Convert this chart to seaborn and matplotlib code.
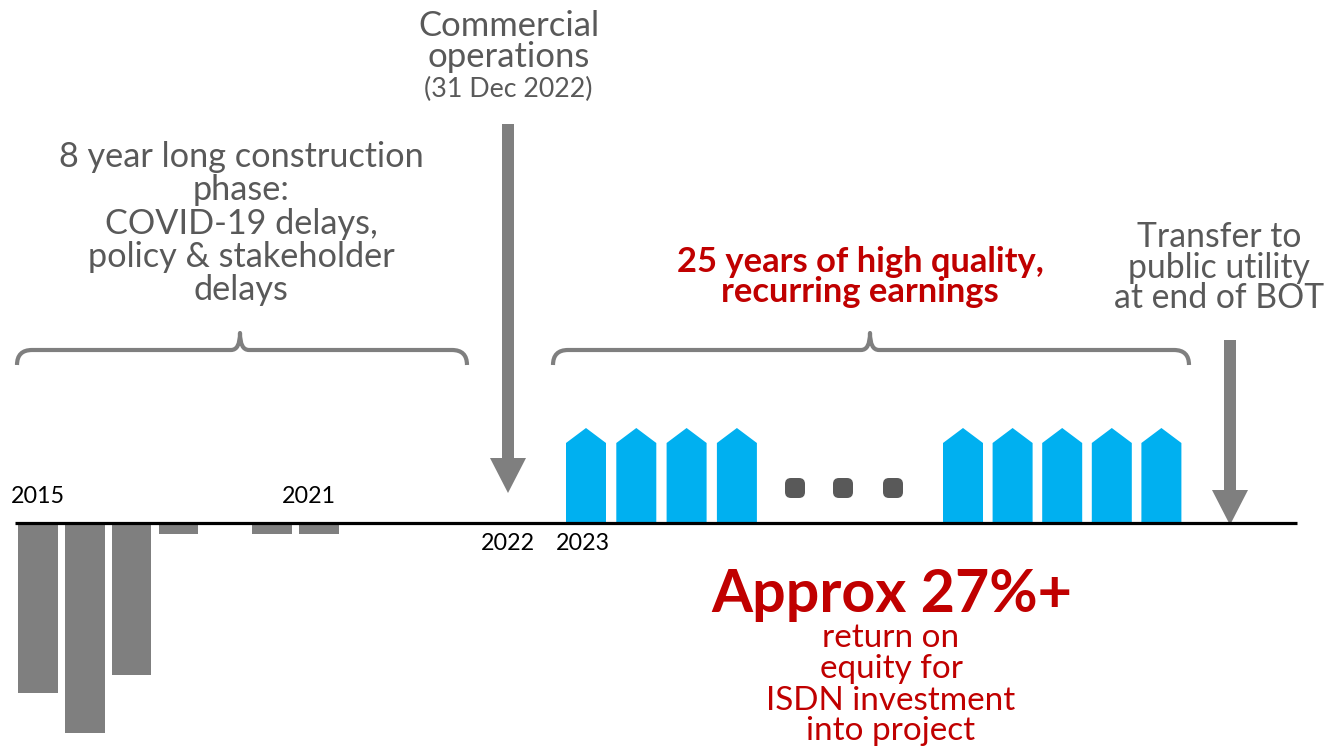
import numpy as np
import pandas as pd
import matplotlib
matplotlib.use("Agg")
import matplotlib.pyplot as plt
import seaborn as sns
from matplotlib.patches import Polygon, FancyArrow, FancyBboxPatch, PathPatch
from matplotlib.path import Path

# ---------------- data ----------------
construction_years = [2015, 2016, 2017, 2018, 2019, 2020, 2021]
construction_values = [-170, -210, -152, -11, 0, -11, -11]
early_earning_years = [2023, 2024, 2025, 2026]
early_earning_values = [95, 95, 95, 95]
late_earning_years = [2043, 2044, 2045, 2046, 2047]
late_earning_values = [95, 95, 95, 95, 95]
axis_year_labels = ["2015", "2021", "2022", "2023"]

# ---------------- style ----------------
sns.set_theme(style="white")
plt.rcParams["font.family"] = ["Lato", "DejaVu Sans"]

GRAY_BAR = "#7F7F7F"
BLUE = "#00B0F0"
TEXT_GRAY = "#595959"
RED = "#C00000"
DOT = "#595959"

W, H = 1324, 749
BASE = 523  # pixel row of the timeline


def Y(p):
    """pixel row -> data y (1 data unit == 1 px, baseline at 0)"""
    return BASE - p


fig = plt.figure(figsize=(W / 100, H / 100), dpi=100)
ax = fig.add_axes([0, 0, 1, 1])

# ---------------- construction bars (seaborn) ----------------
X0, STEP = 38, 46.8
df = pd.DataFrame({"year": construction_years, "value": construction_values})
df["pos"] = X0 + STEP * (df["year"] - construction_years[0])
sns.barplot(data=df, x="pos", y="value", native_scale=True, width=0.85,
            color=GRAY_BAR, saturation=1, linewidth=0, errorbar=None, ax=ax)

# ---------------- earnings "house" bars ----------------
BW = 40
SHOULDER_FRAC = 80 / 95


def house(xc, v):
    sh = v * SHOULDER_FRAC
    pts = [(xc - BW / 2, 0), (xc - BW / 2, sh), (xc, v), (xc + BW / 2, sh), (xc + BW / 2, 0)]
    ax.add_patch(Polygon(pts, closed=True, facecolor=BLUE, edgecolor="none", zorder=3))


for i, v in enumerate(early_earning_values):
    house(586 + 50.3 * i, v)
for i, v in enumerate(late_earning_values):
    house(963 + 49.6 * i, v)

# ellipsis dots
for xc in (795, 843, 893):
    ax.add_patch(FancyBboxPatch((xc - 6, Y(488) - 6), 12, 12,
                                boxstyle="round,pad=4,rounding_size=6",
                                facecolor=DOT, edgecolor="none", zorder=3))

# timeline
ax.plot([15, 1297], [0, 0], color="black", lw=2.3, zorder=5, solid_capstyle="butt")

# ---------------- arrows ----------------
def down_arrow(xc, top, tip):
    ax.add_patch(FancyArrow(xc, Y(top), 0, -(tip - top), width=12, head_width=36,
                            head_length=35, length_includes_head=True,
                            facecolor=GRAY_BAR, edgecolor="none", zorder=4))


down_arrow(508, 124, 493)
down_arrow(1230, 340, 525)

# ---------------- braces ----------------
def brace(x0, x1, xc, y_end=365, y_h=350, y_cusp=333, r=15, c=9):
    verts = [(x0, y_end), (x0, y_h), (x0 + r, y_h),
             (xc - c, y_h),
             (xc, y_h), (xc, y_cusp),
             (xc, y_h), (xc + c, y_h),
             (x1 - r, y_h),
             (x1, y_h), (x1, y_end)]
    codes = [Path.MOVETO, Path.CURVE3, Path.CURVE3, Path.LINETO,
             Path.CURVE3, Path.CURVE3, Path.CURVE3, Path.CURVE3,
             Path.LINETO, Path.CURVE3, Path.CURVE3]
    verts = [(x, Y(y)) for x, y in verts]
    ax.add_patch(PathPatch(Path(verts, codes), fill=False, edgecolor=GRAY_BAR,
                           lw=3, capstyle="butt", joinstyle="round", zorder=3))


brace(17, 467, 240)
brace(553, 1189, 870)

ax.set_xlim(0, W)
ax.set_ylim(-(H - BASE), BASE)
ax.axis("off")

# ---------------- text ----------------
renderer = fig.canvas.get_renderer()


def block(lines, cx, baselines, ref_idx, ref_w, color, weight="normal"):
    ts = [ax.text(cx, Y(b), s, ha="center", va="baseline", fontsize=20,
                  color=color, fontweight=weight, zorder=6)
          for s, b in zip(lines, baselines)]
    w = ts[ref_idx].get_window_extent(renderer).width
    size = 20 * ref_w / w
    for t in ts:
        t.set_fontsize(size)
    return ts


block(["Commercial", "operations"], 509, [36, 67], 0, 181, TEXT_GRAY)
block(["(31 Dec 2022)"], 508, [97], 0, 168, TEXT_GRAY)
block(["8 year long construction", "phase:", "COVID-19 delays,",
       "policy & stakeholder", "delays"], 241, [167, 200, 234, 267, 300], 0, 366, TEXT_GRAY)
block(["25 years of high quality,", "recurring earnings"], 860, [272, 302], 0, 367, RED, "bold")
block(["Transfer to", "public utility", "at end of BOT"], 1219, [247, 278, 308], 2, 210, TEXT_GRAY)
block(["Approx 27%+"], 891.5, [612], 0, 361, RED, "bold")
block(["return on", "equity for", "ISDN investment", "into project"], 891,
      [647, 678, 710, 740], 2, 250, RED)

# year labels
yl = block([axis_year_labels[0]], 37.5, [503], 0, 54, "black")
fs = yl[0].get_fontsize()
for s, cx, b in [(axis_year_labels[1], 308.5, 503), (axis_year_labels[2], 507.5, 550),
                 (axis_year_labels[3], 583, 550)]:
    ax.text(cx, Y(b), s, ha="center", va="baseline", fontsize=fs, color="black", zorder=6)

fig.savefig("out.png", dpi=100)
